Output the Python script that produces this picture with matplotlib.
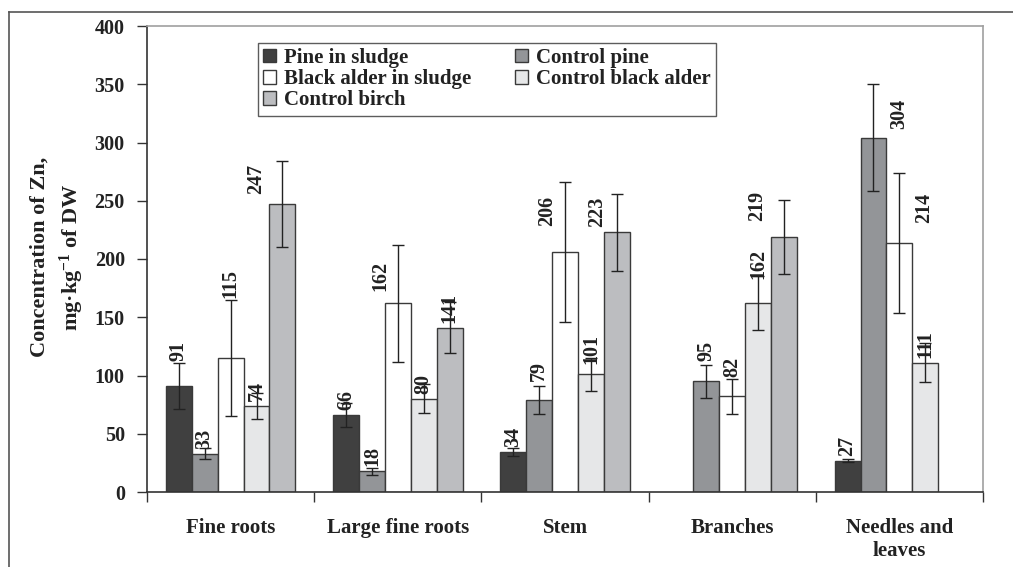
import numpy as np
import matplotlib
matplotlib.use("Agg")
import matplotlib.pyplot as plt
from matplotlib.lines import Line2D
from matplotlib.patches import Patch

plt.rcParams['font.family'] = ['Liberation Serif', 'DejaVu Serif']
plt.rcParams['font.weight'] = 'bold'
plt.rcParams['mathtext.fontset'] = 'custom'
plt.rcParams['mathtext.rm'] = 'Liberation Serif:bold'
plt.rcParams['mathtext.bf'] = 'Liberation Serif:bold'
plt.rcParams['mathtext.default'] = 'bf'

nan = np.nan

categories = ['Fine roots', 'Large fine roots', 'Stem', 'Branches', 'Needles and\nleaves']
series_names = ['Pine in sludge', 'Control pine', 'Black alder in sludge',
                'Control black alder', 'Control birch']

pine_sludge = [91, 66, 34, nan, 27]
control_pine = [33, 18, 79, 95, 304]
alder_sludge = [115, 162, 206, 82, 214]
control_alder = [74, 80, 101, 162, 111]
control_birch = [247, 141, 223, 219, nan]

pine_sludge_err = [20, 10, 3.5, nan, 1]
control_pine_err = [4.5, 3, 12, 14, 46]
alder_sludge_err = [50, 50, 60, 15, 60]
control_alder_err = [11, 12.5, 14, 23, 17]
control_birch_err = [37, 22, 33, 32, nan]

y_ticks = [0, 50, 100, 150, 200, 250, 300, 350, 400]

values = [pine_sludge, control_pine, alder_sludge, control_alder, control_birch]
errors = [pine_sludge_err, control_pine_err, alder_sludge_err, control_alder_err, control_birch_err]
colors = ['#404040', '#939598', '#ffffff', '#e6e7e8', '#bcbdc0']

# hand-placed label nudges (pixels right, pixels up) for crowded spots
label_nudge = {
    (0, 0): (0, 20), (2, 0): (0, 55), (4, 0): (-26, 5),
    (2, 1): (-17, 7),
    (1, 2): (0, 14), (2, 2): (-18, 21), (3, 2): (0, 5), (4, 2): (-20, 0),
    (1, 3): (0, 15), (2, 3): (0, 14), (3, 3): (0, 19), (4, 3): (-27, 11),
    (1, 4): (26, 4), (2, 4): (25, 15),
}

fig = plt.figure(figsize=(10.13, 5.67), dpi=100)
W, H = 1013, 567
ax = fig.add_axes([147 / W, 1 - 492 / H, (983 - 147) / W, (492 - 26) / H])

width = 0.155
x = np.arange(len(categories))
for i, (vals, errs, col) in enumerate(zip(values, errors, colors)):
    xs = x + (i - 2) * width
    for j in range(len(categories)):
        v = vals[j]
        if np.isnan(v):
            continue
        ax.bar(xs[j], v, width=width, color=col, edgecolor='#3a3a3a', linewidth=1.0, zorder=2)
        ax.errorbar(xs[j], v, yerr=errs[j], fmt='none', ecolor='#222222',
                    elinewidth=1.0, capsize=4.5, capthick=1.0, zorder=3)
        dx, dy = label_nudge.get((i, j), (0, 0))
        ax.annotate(f'{v:g}', xy=(xs[j], v), xytext=(dx, 5 + dy),
                    textcoords='offset pixels', rotation=90, ha='center', va='bottom',
                    fontsize=14.5, fontweight='bold', color='#222222', zorder=4)

ax.set_xlim(-0.5, len(categories) - 0.5)
ax.set_ylim(0, 400)
ax.set_yticks(y_ticks)
ax.set_yticklabels([str(t) for t in y_ticks], fontsize=14.5, fontweight='bold', color='#222222')
ax.tick_params(axis='y', direction='out', length=7, width=1, color='#333333', pad=9)

ax.set_xticks(x)
ax.set_xticklabels(categories, fontsize=15, fontweight='bold', color='#222222')
ax.tick_params(axis='x', which='major', length=0, pad=19)
ax.set_xticks(np.arange(-0.5, len(categories)), minor=True)
ax.tick_params(axis='x', which='minor', direction='out', length=7, width=1, color='#333333')

for s in ['left', 'bottom']:
    ax.spines[s].set_color('#333333')
    ax.spines[s].set_linewidth(1.2)
for s in ['top', 'right']:
    ax.spines[s].set_color('#a0a0a0')
    ax.spines[s].set_linewidth(1.2)

fig.text(58 / W, 1 - 257 / H, 'Concentration of Zn,\nmg·kg$^{-1}$ of DW', rotation=90,
         ha='center', va='center', fontsize=16, fontweight='bold', color='#222222',
         linespacing=1.4)

# legend entries read row by row: two columns, filled column-wise by matplotlib
order = [0, 2, 4, 1, 3]
handles = [Patch(facecolor=colors[k], edgecolor='#3a3a3a', linewidth=1.0) for k in order]
labels = [series_names[k] for k in order]
leg = ax.legend(handles, labels, ncol=2, loc='upper left',
                bbox_to_anchor=((258 - 147) / (983 - 147), 1 - (43 - 26) / (492 - 26)),
                frameon=True, fancybox=False, edgecolor='#333333', fontsize=15,
                handlelength=0.6, handleheight=0.6, handletextpad=0.4,
                columnspacing=2.1, labelspacing=0.05, borderpad=0.25, borderaxespad=0)
leg.get_frame().set_linewidth(1.0)
for t in leg.get_texts():
    t.set_fontweight('bold')
    t.set_color('#222222')

# outer frame lines
fig.add_artist(Line2D([9 / W, 9 / W], [1 - 12 / H, 0], color='#555555', linewidth=1.2))
fig.add_artist(Line2D([9 / W, 1], [1 - 12 / H, 1 - 12 / H], color='#555555', linewidth=1.2))

fig.savefig('out.png', dpi=100)
